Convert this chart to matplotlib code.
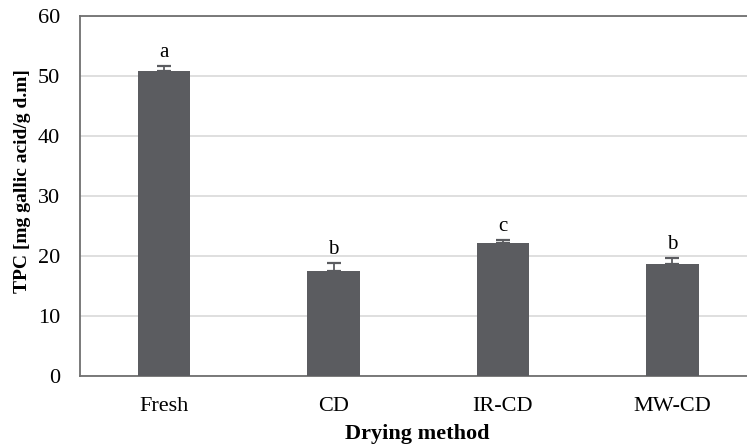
import matplotlib
matplotlib.use("Agg")
import matplotlib.pyplot as plt
import numpy as np

categories = ["Fresh", "CD", "IR-CD", "MW-CD"]
values = [50.8, 17.5, 22.1, 18.7]
errors = [0.8, 1.3, 0.6, 1.0]
letters = ["a", "b", "c", "b"]
yticks = [0, 10, 20, 30, 40, 50, 60]

plt.rcParams['font.family'] = ['Liberation Serif', 'DejaVu Serif']

fig = plt.figure(figsize=(7.47, 4.46), dpi=100)
W, H = 747, 446
ax = fig.add_axes([79.5 / W, 1 - 376 / H, (757 - 79.5) / W, (376 - 16) / H])

x = np.arange(len(categories))
bar_color = "#5b5c60"
ax.bar(x, values, width=0.31, color=bar_color, zorder=3)
ax.errorbar(x, values, yerr=[np.zeros(len(errors)), errors], fmt="none",
            ecolor=bar_color, elinewidth=1.3, capsize=5, capthick=1.6, zorder=4)
for xi, v, e, l in zip(x, values, errors, letters):
    ax.text(xi, v + e + 1.5, l, ha="center", va="baseline", fontsize=15, color="black")

ax.set_xlim(-0.5, len(categories) - 0.5)
ax.set_ylim(0, 60)
ax.set_yticks(yticks)
ax.set_xticks(x)
ax.set_xticklabels(categories)
ax.tick_params(axis="both", length=0, labelsize=16, colors="black")
ax.tick_params(axis="x", pad=15)
ax.tick_params(axis="y", pad=14)
ax.yaxis.grid(True, color="#d9d9d9", linewidth=1.2, zorder=0)
ax.set_axisbelow(True)
for s in ["left", "bottom", "top", "right"]:
    ax.spines[s].set_color("#707070")
    ax.spines[s].set_linewidth(1.3)

ax.set_ylabel("TPC [mg gallic acid/g d.m]", fontsize=14, fontweight="bold")
ax.yaxis.set_label_coords(-(79.5 - 31) / (757 - 79.5), (376 - 181) / (376 - 16))
ax.set_xlabel("Drying method", fontsize=16, fontweight="bold")
ax.xaxis.set_label_coords((417 - 79.5) / (757 - 79.5), -(424 - 376) / (376 - 16))

fig.savefig("out.png", dpi=100)
